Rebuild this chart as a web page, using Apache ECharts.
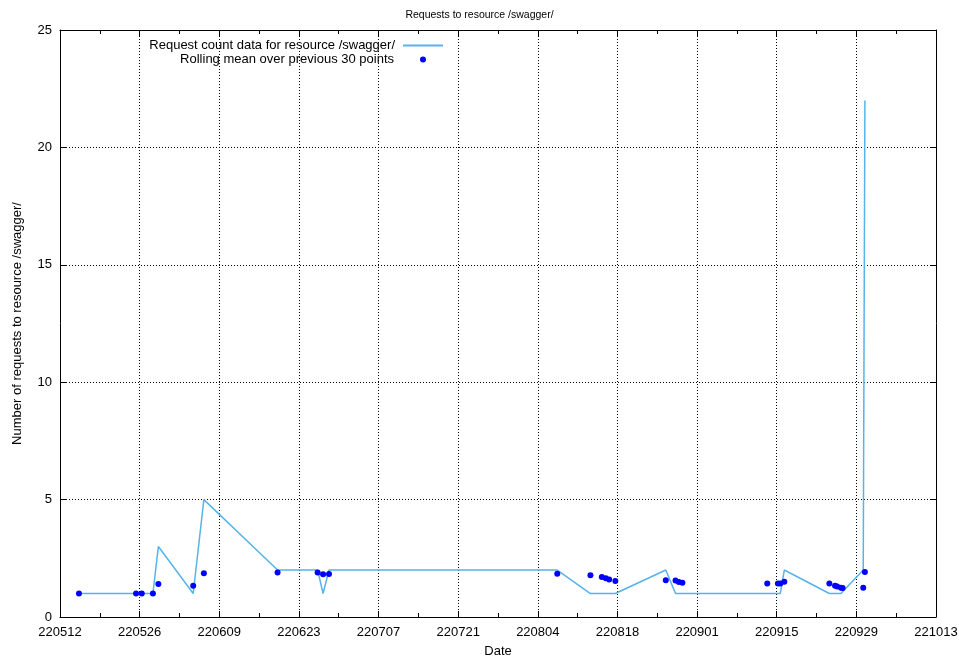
<!DOCTYPE html>
<html>
<head>
<meta charset="utf-8">
<script src="https://cdn.jsdelivr.net/npm/echarts@6/dist/echarts.min.js"></script>
<style>html,body{margin:0;padding:0;background:#fff;}#c{width:959px;height:658px;}</style>
</head>
<body>
<div id="c"></div>
<script>
// Data
const dates = [
  '2022-05-15 08:00','2022-05-25 09:00','2022-05-26 09:00','2022-05-28 08:00','2022-05-29 07:00',
  '2022-06-04 10:00','2022-06-06 07:00','2022-06-19 06:00','2022-06-26 07:00','2022-06-27 06:00',
  '2022-06-28 07:00','2022-08-07 10:00','2022-08-13 06:00','2022-08-15 06:00','2022-08-15 23:00',
  '2022-08-16 13:00','2022-08-17 15:00','2022-08-26 12:00','2022-08-28 05:00','2022-08-28 19:00',
  '2022-08-29 10:00','2022-09-13 08:00','2022-09-15 05:00','2022-09-15 15:00','2022-09-16 08:00',
  '2022-09-24 06:00','2022-09-25 06:00','2022-09-25 15:00','2022-09-26 07:00','2022-09-26 14:00',
  '2022-09-30 05:00','2022-09-30 12:00'
];
const counts = [1,1,1,1,3, 1,5,2,2,1, 2,2,1,1,1, 1,1,2,1,1, 1,1,1,1,2, 1,1,1,1,1, 2,22];
const rollingMeans = [1.00,1.00,1.00,1.00,1.41, 1.33,1.86,1.89,1.90,1.82, 1.83,1.84,1.78,1.70,1.65,
  1.60,1.53,1.56,1.55,1.49, 1.46,1.43,1.43,1.43,1.50, 1.43,1.33,1.30,1.25,1.24, 1.25,1.92];
const xStart = '2022-05-12';
const xEnd = '2022-10-13';
const xTickDays = 14;
const yTicks = [0,5,10,15,20,25];

const DAY = 86400000;
const t0 = Date.parse(xStart + 'T00:00:00Z');
const toDays = s => (Date.parse(s.replace(' ', 'T') + ':00Z') - t0) / DAY;
const xMax = (Date.parse(xEnd + 'T00:00:00Z') - t0) / DAY;
const pad = n => (n < 10 ? '0' : '') + n;
const fmt = v => {
  const d = new Date(t0 + Math.round(v) * DAY);
  return pad(d.getUTCFullYear() % 100) + pad(d.getUTCMonth() + 1) + pad(d.getUTCDate());
};

const lineData = dates.map((s, i) => [toDays(s), counts[i]]);
const meanData = dates.map((s, i) => [toDays(s), rollingMeans[i]]);

const FONT = 'Liberation Sans';
const FS = 13;
const name1 = 'Request count data for resource /swagger/';
const name2 = 'Rolling mean over previous 30 points';
const dotted = {show: true, lineStyle: {color: '#000', type: [1, 2], width: 1}};

const chart = echarts.init(document.getElementById('c'), null, {renderer: 'canvas'});
chart.setOption({
  backgroundColor: '#fff',
  animation: false,
  textStyle: {fontFamily: FONT},
  title: {
    text: 'Requests to resource /swagger/', left: 'center', top: 5,
    textStyle: {fontFamily: FONT, fontSize: 10.5, fontWeight: 'normal', color: '#000'}
  },
  legend: [
    {
      data: [{name: name1, icon: 'rect'}], right: 959 - 443, top: 39, align: 'right',
      itemWidth: 40, itemHeight: 2, padding: 0, selectedMode: false,
      textStyle: {fontFamily: FONT, fontSize: FS, color: '#000', padding: [0, 3, 0, 0]}
    },
    {
      data: [{name: name2, icon: 'circle'}], right: 959 - 426, top: 53, align: 'right',
      itemWidth: 6, itemHeight: 6, padding: 0, selectedMode: false,
      textStyle: {fontFamily: FONT, fontSize: FS, color: '#000', padding: [0, 21, 0, 0]}
    }
  ],
  grid: {left: 60, right: 23, top: 30, bottom: 41, outerBoundsMode: 'none', containLabel: false},
  xAxis: [
    {
      type: 'value', min: 0, max: xMax, interval: xTickDays,
      name: 'Date', nameLocation: 'middle', nameGap: 28,
      nameTextStyle: {fontFamily: FONT, fontSize: FS, color: '#000'},
      axisLine: {show: true, onZero: false, lineStyle: {color: '#000', width: 1}},
      axisTick: {show: true, inside: true, length: 6, lineStyle: {color: '#000'}},
      minorTick: {show: true, splitNumber: 2, length: 4, lineStyle: {color: '#000'}},
      axisLabel: {formatter: fmt, color: '#000', fontFamily: FONT, fontSize: FS, margin: 9, showMinLabel: true, showMaxLabel: true, hideOverlap: false},
      splitLine: dotted
    },
    {
      type: 'value', position: 'top', min: 0, max: xMax, interval: xTickDays,
      axisLine: {show: true, onZero: false, lineStyle: {color: '#000', width: 1}},
      axisTick: {show: true, inside: true, length: 6, lineStyle: {color: '#000'}},
      minorTick: {show: true, splitNumber: 2, length: 4, lineStyle: {color: '#000'}},
      axisLabel: {show: false}, splitLine: {show: false}
    }
  ],
  yAxis: [
    {
      type: 'value', min: yTicks[0], max: yTicks[yTicks.length - 1], interval: 5,
      name: 'Number of requests to resource /swagger/', nameLocation: 'middle', nameGap: 36,
      nameTextStyle: {fontFamily: FONT, fontSize: FS, color: '#000'},
      axisLine: {show: true, onZero: false, lineStyle: {color: '#000', width: 1}},
      axisTick: {show: true, inside: true, length: 6, lineStyle: {color: '#000'}},
      axisLabel: {color: '#000', fontFamily: FONT, fontSize: FS, margin: 8},
      splitLine: dotted
    },
    {
      type: 'value', position: 'right', min: yTicks[0], max: yTicks[yTicks.length - 1], interval: 5,
      axisLine: {show: true, onZero: false, lineStyle: {color: '#000', width: 1}},
      axisTick: {show: true, inside: true, length: 6, lineStyle: {color: '#000'}},
      axisLabel: {show: false}, splitLine: {show: false}
    }
  ],
  series: [
    {
      name: name1, type: 'line', data: lineData, symbol: 'none',
      color: '#56b4e9', lineStyle: {color: '#56b4e9', width: 1.5}, z: 2
    },
    {
      name: name2, type: 'scatter', data: meanData, symbolSize: 6,
      color: '#0000ff', itemStyle: {color: '#0000ff', opacity: 1}, z: 3
    }
  ]
});
</script>
</body>
</html>
